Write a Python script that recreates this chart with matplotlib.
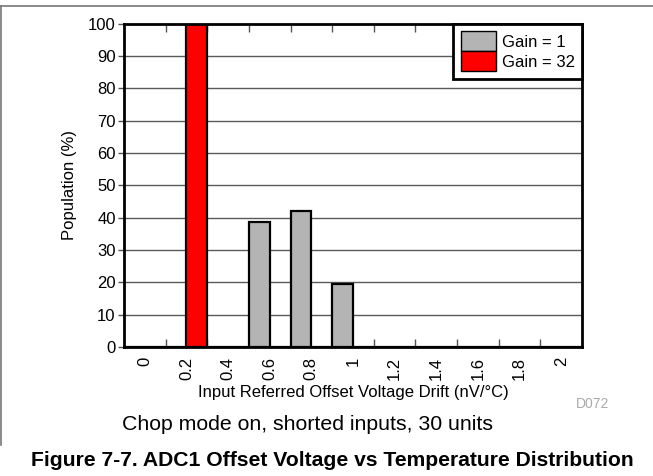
import matplotlib
matplotlib.use("Agg")
import matplotlib.pyplot as plt
from matplotlib.lines import Line2D
import numpy as np

plt.rcParams['font.family'] = ['Liberation Sans', 'DejaVu Sans']

categories = ["0", "0.2", "0.4", "0.6", "0.8", "1", "1.2", "1.4", "1.6", "1.8", "2"]
gain1 = [0, 0, 0, 38.7, 41.9, 19.4, 0, 0, 0, 0, 0]
gain32 = [0, 100, 0, 0, 0, 0, 0, 0, 0, 0, 0]
yticks = [0, 10, 20, 30, 40, 50, 60, 70, 80, 90, 100]

fig = plt.figure(figsize=(6.53, 4.76), dpi=100)
ax = fig.add_axes([124/653, 1-347/476, (582-124)/653, (347-23.5)/476])

x = np.arange(len(categories))
w = 0.5
ax.bar(x - w/2, gain1, width=w, color='#b4b4b4', edgecolor='black', linewidth=1.6, zorder=3, label='Gain = 1')
ax.bar(x + w/2, gain32, width=w, color='#ff0000', edgecolor='black', linewidth=1.6, zorder=3, label='Gain = 32')

for yv in yticks[1:-1]:
    ax.axhline(yv, color='#5a5a5a', lw=1.0, zorder=1)

ax.set_xlim(-0.5, len(categories) - 0.5)
ax.set_ylim(0, 100)
ax.set_xticks(x)
ax.set_xticklabels(categories, rotation=90, fontsize=12)
ax.set_xticks(np.arange(len(categories) - 1) + 0.5, minor=True)
ax.tick_params(axis='x', which='major', length=0, pad=7)
ax.tick_params(axis='x', which='minor', direction='in', length=6, width=1, color='#555555', top=True, bottom=True)
ax.set_yticks(yticks)
ax.set_yticklabels([str(v) for v in yticks], fontsize=12)
ax.tick_params(axis='y', which='major', direction='out', length=4, width=1, color='#555555', pad=2)

for s in ax.spines.values():
    s.set_linewidth(2.0)
    s.set_color('black')
    s.set_zorder(5)

ax.set_ylabel('Population (%)', fontsize=12, labelpad=8)
ax.set_xlabel('Input Referred Offset Voltage Drift (nV/\u00b0C)', fontsize=12, labelpad=4)

leg = ax.legend(loc='upper right', bbox_to_anchor=(1.0, 1.0), fontsize=12, frameon=True,
                fancybox=False, borderaxespad=0, handlelength=2.1, handleheight=1.47,
                labelspacing=0.0, handletextpad=0.36, borderpad=0.45)
leg.get_frame().set_edgecolor('black')
leg.get_frame().set_linewidth(2.0)
leg.get_frame().set_alpha(1)
leg.set_zorder(6)
for h in leg.legend_handles:
    h.set_linewidth(1.0)

fig.text(593/653, 1-404/476, 'D072', fontsize=10, color='#aaaaaa', ha='center', va='center')
fig.text(308/653, 1-424/476, 'Chop mode on, shorted inputs, 30 units', fontsize=15.3, ha='center', va='center')
fig.text(332/653, 1-461/476, 'Figure 7-7. ADC1 Offset Voltage vs Temperature Distribution', fontsize=15.2,
         fontweight='bold', ha='center', va='center')

fig.add_artist(Line2D([0, 1], [1-6/476, 1-6/476], color='#777777', lw=1.2, transform=fig.transFigure))
fig.add_artist(Line2D([1/653, 1/653], [1-6/476, 1-445/476], color='#777777', lw=1.2, transform=fig.transFigure))

fig.savefig('out.png', dpi=100)
